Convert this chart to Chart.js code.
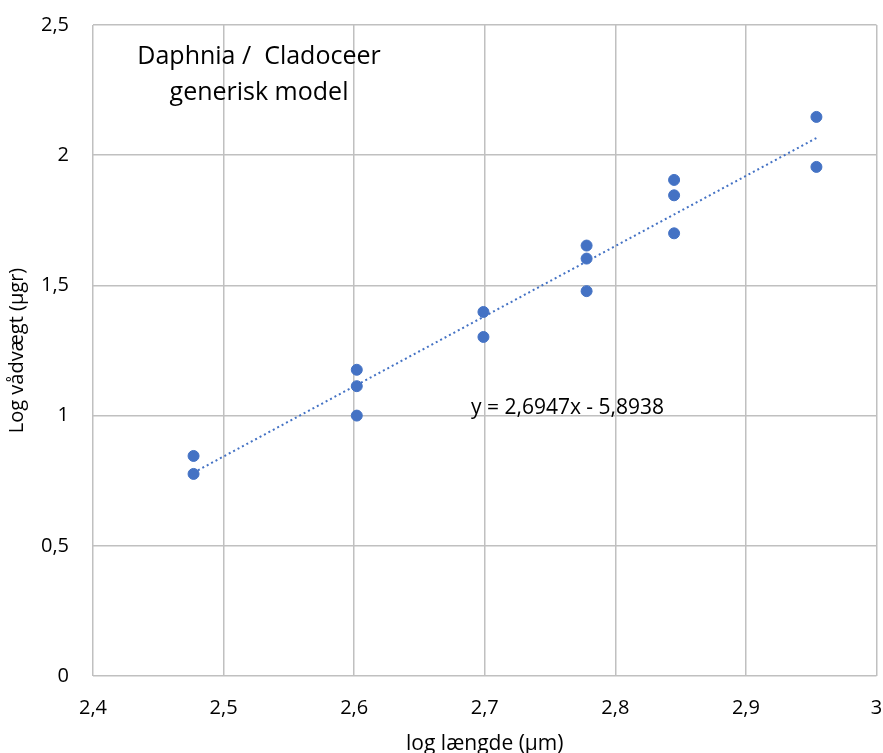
<!DOCTYPE html>
<html>
<head>
<meta charset="utf-8">
<script src="https://cdn.jsdelivr.net/npm/chart.js@4"></script>
<style>
  html, body { margin: 0; padding: 0; background: #fff; }
</style>
</head>
<body>
<canvas id="chart" width="883" height="753"></canvas>
<script>
// log længde / log vådvægt
const logLength = [2.477, 2.477, 2.602, 2.602, 2.602, 2.699, 2.699, 2.778, 2.778, 2.778, 2.845, 2.845, 2.845, 2.954, 2.954];
const logWeight = [0.845, 0.776, 1.176, 1.113, 1.000, 1.398, 1.302, 1.653, 1.603, 1.478, 1.905, 1.846, 1.700, 2.147, 1.955];

// tendenslinje (endepunkter)
const trendX = [2.477, 2.954];
const trendY = [0.781, 2.066];

const xTicks = [2.4, 2.5, 2.6, 2.7, 2.8, 2.9, 3];
const yTicks = [0, 0.5, 1, 1.5, 2, 2.5];

const titleLines = ['Daphnia /  Cladoceer', 'generisk model'];
const equationText = 'y = 2,6947x - 5,8938';

const FONT = '"Open Sans", "Noto Sans", sans-serif';
const comma = v => String(Math.round(v * 10) / 10).replace('.', ',');

// tekst inde i plotområdet
const labelsPlugin = {
    id: 'labels',
    afterDatasetsDraw(chart) {
        const { ctx, chartArea } = chart;
        ctx.save();
        ctx.fillStyle = '#000';
        ctx.textAlign = 'center';
        ctx.textBaseline = 'middle';
        ctx.font = '25px ' + FONT;
        ctx.fillText(titleLines[0], chartArea.left + 166, chartArea.top + 32);
        ctx.fillText(titleLines[1], chartArea.left + 166, chartArea.top + 68);
        ctx.textAlign = 'left';
        ctx.font = '21px ' + FONT;
        ctx.fillText(equationText, chartArea.left + 378, chartArea.top + 383);
        ctx.restore();
    }
};

new Chart(document.getElementById('chart'), {
    type: 'scatter',
    data: {
        datasets: [
            {
                label: 'data',
                data: logLength.map((x, i) => ({ x: x, y: logWeight[i] })),
                backgroundColor: '#4472C4',
                borderColor: '#4472C4',
                pointRadius: 5.5,
                pointHoverRadius: 5.5
            },
            {
                label: 'trend',
                type: 'line',
                data: trendX.map((x, i) => ({ x: x, y: trendY[i] })),
                borderColor: '#4472C4',
                borderWidth: 2,
                borderDash: [2, 3],
                pointRadius: 0,
                fill: false
            }
        ]
    },
    options: {
        responsive: false,
        animation: false,
        layout: { padding: { top: 25, right: 6, left: 0, bottom: 0 } },
        plugins: { legend: { display: false }, tooltip: { enabled: false } },
        scales: {
            x: {
                type: 'linear',
                min: 2.4,
                max: 3,
                afterBuildTicks: s => { s.ticks = xTicks.map(v => ({ value: v })); },
                afterFit: s => { s.height = 77; s.paddingLeft = 0; s.paddingRight = 0; },
                ticks: { callback: comma, color: '#000', font: { family: FONT, size: 20 }, padding: 20, maxRotation: 0 },
                grid: { color: '#c0c0c0', lineWidth: 1.5, drawTicks: false },
                border: { display: false },
                title: { display: true, text: 'log længde (µm)', color: '#000', font: { family: FONT, size: 21 }, padding: { top: 0, bottom: -4 } }
            },
            y: {
                type: 'linear',
                min: 0,
                max: 2.5,
                afterBuildTicks: s => { s.ticks = yTicks.map(v => ({ value: v })); },
                afterFit: s => { s.width = 93; s.paddingTop = 0; s.paddingBottom = 0; },
                ticks: { callback: comma, color: '#000', font: { family: FONT, size: 20 }, padding: 24 },
                grid: { color: '#c0c0c0', lineWidth: 1.5, drawTicks: false },
                border: { display: false },
                title: { display: true, text: 'Log vådvægt (µgr)', color: '#000', font: { family: FONT, size: 20 }, padding: { top: 5, bottom: 0 } }
            }
        }
    },
    plugins: [labelsPlugin]
});
</script>
</body>
</html>
